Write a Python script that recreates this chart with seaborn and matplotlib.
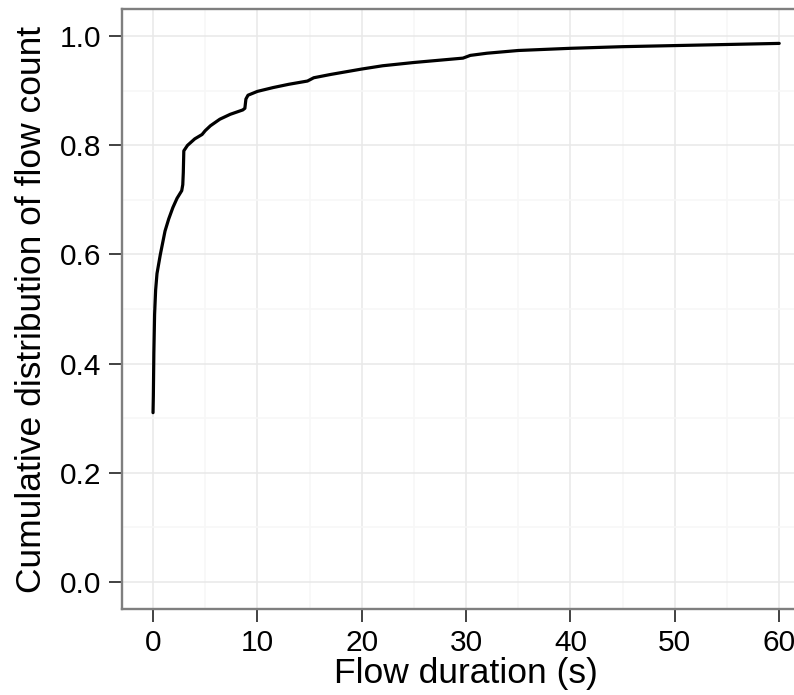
import matplotlib
matplotlib.use("Agg")
import matplotlib.pyplot as plt
import seaborn as sns
import pandas as pd
import numpy as np
from matplotlib.ticker import MultipleLocator

# Data (CDF of flow duration)
duration = [0.0, 0.03, 0.08, 0.15, 0.25, 0.38, 0.7, 1.15, 1.5, 1.9, 2.3, 2.75,
            2.85, 2.9, 2.95, 3.3, 4.0, 4.7, 5.0, 5.5, 6.4, 7.4, 8.6, 8.8,
            8.9, 9.1, 10.0, 11.5, 13.0, 14.8, 15.4, 17.0, 20.0, 22.0, 25.0,
            29.7, 30.4, 32.0, 35.0, 40.0, 45.0, 50.0, 55.0, 60.0]
cdf = [0.31, 0.34, 0.42, 0.49, 0.535, 0.565, 0.60, 0.643, 0.665, 0.686, 0.703, 0.717,
       0.728, 0.75, 0.79, 0.80, 0.812, 0.82, 0.827, 0.836, 0.848, 0.857, 0.865, 0.868,
       0.885, 0.892, 0.899, 0.906, 0.912, 0.918, 0.924, 0.930, 0.940, 0.946, 0.952,
       0.960, 0.965, 0.969, 0.974, 0.978, 0.981, 0.983, 0.985, 0.987]
x_ticks = [0, 10, 20, 30, 40, 50, 60]
y_ticks = [0.0, 0.2, 0.4, 0.6, 0.8, 1.0]
x_label = "Flow duration (s)"
y_label = "Cumulative distribution of flow count"

df = pd.DataFrame({"duration": duration, "cdf": cdf})

sns.set_theme(style="white")
plt.rcParams['font.family'] = ['Liberation Sans', 'DejaVu Sans']

fig = plt.figure(figsize=(7.94, 6.95), dpi=100)
ax = fig.add_axes([0.1533, 0.1237, 0.8675, 0.8633])

sns.lineplot(data=df, x="duration", y="cdf", ax=ax, color="black",
             linewidth=2.3, sort=False, estimator=None)

ax.set_xlim(-3, 63)
ax.set_ylim(-0.05, 1.05)
ax.set_xticks(x_ticks)
ax.set_yticks(y_ticks)
ax.set_xticklabels([str(t) for t in x_ticks])
ax.set_yticklabels([f"{t:.1f}" for t in y_ticks])
ax.xaxis.set_minor_locator(MultipleLocator(5))
ax.yaxis.set_minor_locator(MultipleLocator(0.1))

ax.grid(which="major", color="#E8E8E8", linewidth=1.1)
ax.grid(which="minor", color="#F7F7F7", linewidth=1.1)
ax.set_axisbelow(True)

for s in ax.spines.values():
    s.set_color("#7F7F7F")
    s.set_linewidth(1.7)

ax.tick_params(axis="both", which="major", length=9.5, width=1.3, color="#333333",
               labelsize=21.5, labelcolor="black", direction="out")
ax.tick_params(axis="x", which="major", pad=5, bottom=True)
ax.tick_params(axis="y", which="major", pad=5, left=True)
ax.tick_params(which="minor", length=0)

ax.set_xlabel(x_label, fontsize=25.5, labelpad=0, color="black")
ax.set_ylabel(y_label, fontsize=25.5, labelpad=9, color="black")

fig.savefig("out.png", dpi=100)
